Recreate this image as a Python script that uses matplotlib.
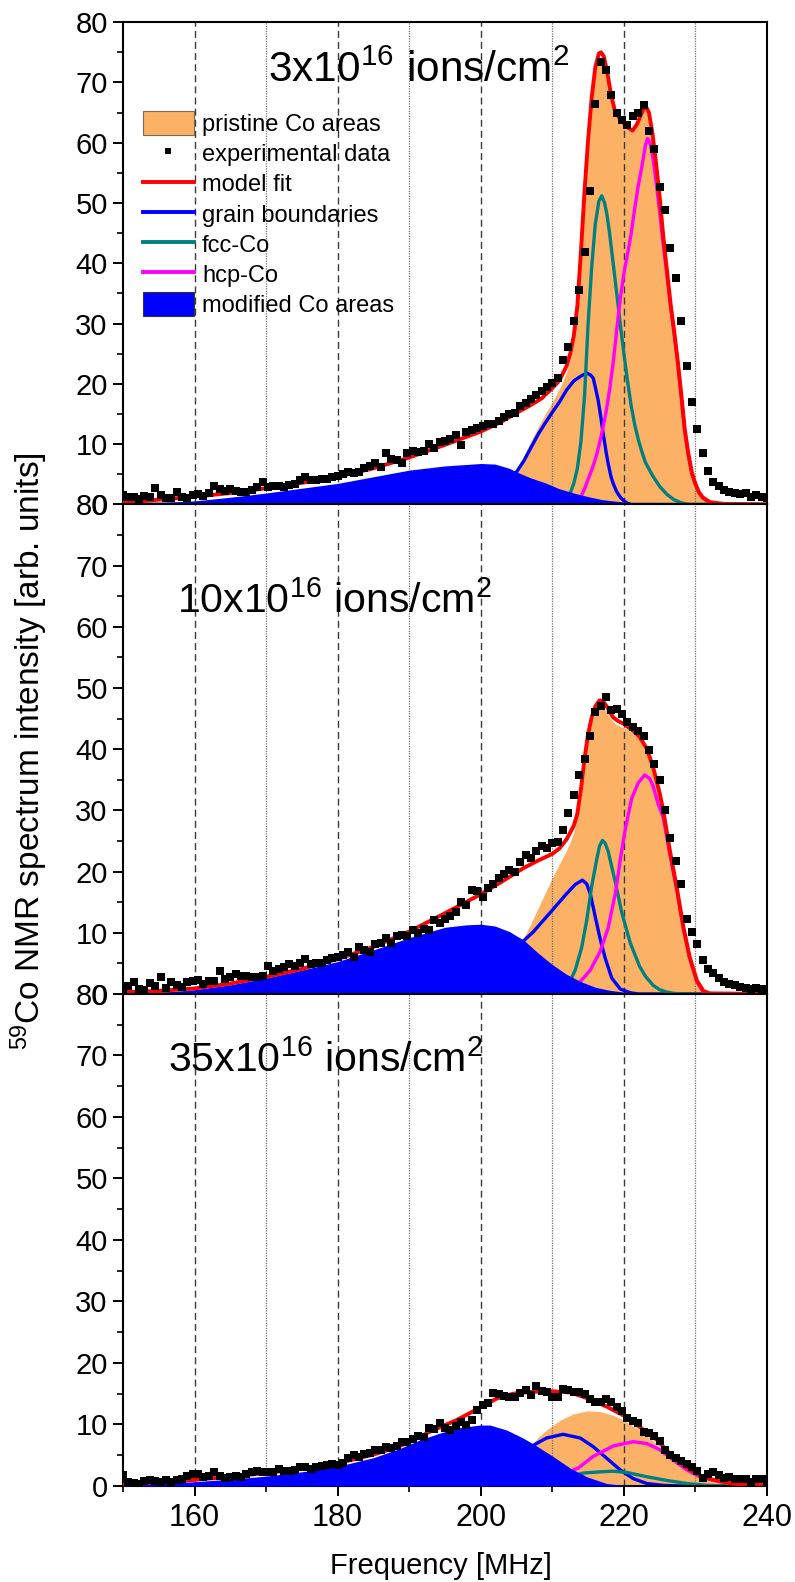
import numpy as np
import matplotlib
matplotlib.use("Agg")
import matplotlib.pyplot as plt
from matplotlib.ticker import MultipleLocator
from matplotlib.patches import Patch
from matplotlib.lines import Line2D

plt.rcParams['font.family'] = ['Liberation Sans', 'DejaVu Sans']
plt.rcParams['mathtext.fontset'] = 'custom'
plt.rcParams['mathtext.rm'] = 'Liberation Sans'
plt.rcParams['mathtext.default'] = 'regular'

ORANGE = '#FBB266'
BLUE = '#0000FF'
TEAL = '#008080'
MAGENTA = '#FF00FF'
RED = '#FF0000'

# measured frequencies (MHz), 0.75 MHz step
freq = 150 + 0.75 * np.arange(121)

# ---------------- panel 1: 3x10^16 ions/cm^2 ----------------
data1 = [1.6, 1.2, 1.3, 0.9, 1.4, 1.2, 2.7, 1.6, 1.0, 1.1,
         2.1, 1.2, 1.0, 1.5, 1.7, 1.4, 1.9, 3.1, 2.6, 2.2,
         2.6, 2.3, 2.1, 2.1, 2.4, 2.9, 3.8, 2.9, 3.1, 3.0,
         2.9, 3.3, 3.4, 4.0, 4.6, 4.1, 4.1, 4.3, 4.3, 4.5,
         4.7, 5.0, 5.4, 5.2, 5.4, 6.1, 6.4, 6.9, 6.2, 8.6,
         7.5, 7.4, 6.8, 8.6, 8.8, 8.7, 8.9, 10.1, 9.3, 10.4,
         10.6, 10.8, 11.5, 9.8, 12.0, 12.4, 12.7, 13.0, 13.3, 13.4,
         13.9, 14.5, 15.0, 15.1, 16.3, 16.8, 17.5, 18.2, 18.8, 19.5,
         20.2, 21.0, 24.0, 26.2, 30.5, 35.5, 41.8, 52.0, 66.5, 73.4,
         72.0, 68.0, 65.0, 63.8, 63.0, 64.5, 65.0, 66.3, 62.0, 59.0,
         52.7, 48.8, 42.5, 37.5, 30.5, 23.0, 17.0, 12.5, 8.6, 5.5,
         3.8, 3.0, 2.4, 2.1, 1.9, 1.8, 1.9, 1.3, 1.6, 1.2,
         1.0]
fit1_x = [150, 155, 160, 165, 170, 175, 180, 185, 190, 195, 200, 203, 205, 207, 208.5, 210, 211, 211.5, 212, 212.5,
          213, 213.5, 214, 214.5, 215, 215.5, 216, 216.5, 216.8, 217.2, 217.7, 218.2, 218.7, 219.3, 220, 220.7,
          221.2, 221.8, 222.5, 223, 223.5, 224, 224.5, 225, 225.5, 226, 226.5, 227, 227.5, 228, 228.5, 229,
          229.5, 230, 230.5, 231, 232, 234, 240]
fit1_y = [0.3, 0.8, 1.3, 1.9, 2.7, 3.6, 4.6, 6.0, 7.8, 9.9, 12.1, 13.8, 15.2, 16.5, 17.6, 19.3, 20.6, 21.8, 23.0, 25.0,
          28.0, 33.0, 42.0, 52.0, 60.5, 67.5, 72.5, 74.8, 75.0, 74.3, 71.5, 68.0, 65.5, 64.2, 63.2, 62.4,
          62.0, 63.0, 65.0, 66.2, 65.0, 61.5, 56.5, 51.0, 44.5, 39.0, 33.5, 29.0, 24.0, 18.5, 12.5, 8.5,
          5.3, 3.4, 2.0, 1.2, 0.4, 0.1, 0.0]
mod1_x = [150, 155, 160, 165, 170, 175, 180, 185, 190, 195, 200, 202, 204, 205, 207, 209, 211, 213, 214, 215,
          217, 220, 225, 230, 240]
mod1_y = [0.0, 0.3, 0.6, 1.2, 1.9, 2.7, 3.5, 4.6, 5.7, 6.4, 6.8, 6.7, 6.0, 5.4, 4.4, 3.6, 2.6, 1.9, 1.6, 1.3,
          0.8, 0.4, 0.1, 0.0, 0.0]
pri1_x = [205, 206, 207, 208, 209, 210, 211, 211.5, 212, 212.5, 213, 213.5, 214, 214.5, 215, 215.5, 216, 216.5,
          216.8, 217.2, 217.7, 218.2, 218.7, 219.3, 220, 220.7, 221.2, 221.8, 222.5, 223, 223.5, 224, 224.5,
          225, 225.5, 226, 226.5, 227, 227.5, 228, 228.5, 229, 229.5, 230, 230.5, 231, 232, 233]
pri1_y = [5.4, 8.0, 10.5, 12.8, 15.0, 17.0, 19.2, 20.5, 22.0, 24.0, 27.0, 32.0, 40.5, 50.7, 59.2, 66.4, 71.5, 74.0,
          74.3, 73.5, 70.8, 67.4, 65.0, 63.7, 62.8, 62.0, 61.7, 62.7, 64.7, 66.0, 64.8, 61.3, 56.3,
          50.9, 44.4, 38.9, 33.4, 28.9, 23.9, 18.4, 12.4, 8.5, 5.3, 3.4, 2.0, 1.2, 0.4, 0.0]
gb1_x = [150, 190, 195, 200, 203, 205, 206, 207, 208, 209, 210, 211, 212, 213, 214, 214.8, 215.3, 215.7, 216, 216.4,
         216.8, 217.1, 217.5, 217.8, 218.2, 218.5, 219, 219.5, 220, 220.5, 221, 240]
gb1_y = [0.0, 0.2, 0.6, 1.6, 3.2, 5.4, 7.2, 9.4, 11.6, 13.5, 15.3, 17.0, 19.0, 20.5, 21.3, 21.8, 21.5, 21.0, 19.5, 17.3,
         14.3, 11.8, 8.8, 6.8, 4.6, 3.5, 2.1, 1.2, 0.6, 0.2, 0.0, 0.0]
fcc1_x = [150, 211, 211.5, 212, 212.5, 213, 213.5, 214, 214.5, 215, 215.5, 216, 216.5, 216.9, 217.3, 217.6, 218,
          218.5, 219, 219.5, 220, 220.5, 221, 221.5, 222, 222.5, 223, 223.5, 224, 225, 226, 227, 228, 229, 240]
fcc1_y = [0.0, 0.0, 0.3, 0.9, 1.9, 3.5, 6.0, 10.5, 18.0, 30.0, 39.4, 46.5, 50.3, 51.2, 50.0, 48.3, 45.0,
          40.0, 35.0, 29.8, 25.0, 20.5, 16.5, 13.3, 10.8, 8.8, 7.0, 5.9, 4.8, 3.0, 1.7, 0.8, 0.3, 0.0, 0.0]
hcp1_x = [150, 212, 213, 213.5, 214, 214.5, 215, 215.5, 216, 216.5, 217, 217.5, 218, 218.5, 219, 219.5, 220, 220.5,
          221, 221.5, 222, 222.5, 223, 223.3, 223.7, 224.1, 224.5, 225, 225.5, 226, 226.5, 227, 227.5, 228,
          228.5, 229, 229.5, 230, 230.5, 231, 232, 233, 240]
hcp1_y = [0.0, 0.0, 0.2, 0.5, 1.3, 2.6, 4.2, 5.7, 7.5, 9.7, 12.3, 15.3, 19.0, 23.5, 29.0, 34.2, 38.3, 41.5,
          44.8, 49.0, 52.8, 56.0, 59.5, 60.7, 59.8, 57.1, 53.5, 48.5, 43.0, 38.3, 33.0, 28.5, 23.8, 18.0,
          12.2, 8.2, 5.1, 3.3, 2.0, 1.1, 0.3, 0.0, 0.0]

# ---------------- panel 2: 10x10^16 ions/cm^2 ----------------
data2 = [0.7, 1.3, 2.0, 0.8, 0.7, 1.8, 1.3, 2.8, 0.9, 2.0,
         1.4, 1.2, 2.0, 2.1, 2.3, 1.7, 2.1, 2.2, 3.8, 2.4,
         2.7, 3.3, 2.9, 2.9, 2.8, 2.8, 3.0, 4.5, 3.7, 4.0,
         4.4, 4.9, 4.5, 5.0, 5.7, 4.9, 5.1, 5.0, 5.5, 5.8,
         6.1, 6.4, 6.9, 6.1, 7.7, 7.2, 6.9, 8.2, 8.4, 9.1,
         8.3, 9.5, 9.6, 9.5, 10.5, 9.9, 10.7, 10.5, 12.1, 11.6,
         12.3, 12.8, 13.4, 15.1, 14.6, 17.0, 16.8, 15.8, 17.3, 17.9,
         18.9, 19.6, 20.3, 20.0, 21.5, 22.7, 22.2, 23.4, 24.2, 23.9,
         24.6, 24.8, 26.8, 29.5, 32.6, 35.8, 38.4, 42.2, 46.1, 47.0,
         48.6, 46.4, 46.5, 45.8, 44.5, 43.7, 43.0, 42.2, 39.8, 37.6,
         35.0, 30.0, 25.5, 21.8, 18.0, 12.3, 10.1, 8.1, 5.6, 4.1,
         3.4, 2.6, 2.0, 1.7, 1.4, 1.2, 1.0, 0.8, 1.0, 0.8,
         0.8]
fit2_x = [150, 155, 160, 165, 170, 175, 180, 185, 190, 195, 200, 203, 206, 208, 210, 211, 212, 212.5, 213, 213.5,
          214, 214.5, 215, 215.5, 216, 216.6, 217.1, 217.6, 218.5, 219.2, 219.9, 221.3, 222.2, 223.2, 224.1,
          225, 225.5, 226.4, 227.4, 228.3, 229.2, 230.2, 231.1, 232, 240]
fit2_y = [0.3, 0.5, 0.9, 1.7, 2.8, 4.1, 5.7, 7.7, 10.2, 13.2, 16.3, 18.4, 20.6, 21.8, 22.9, 23.8, 25.3, 26.4, 27.5, 29.5,
          33.5, 38.5, 42.5, 45.2, 47.0, 48.0, 47.8, 47.0, 45.2, 44.6, 44.2, 43.0, 42.0, 40.1, 37.0,
          32.8, 30.0, 23.6, 17.3, 11.0, 6.0, 2.2, 0.5, 0.1, 0.0]
mod2_x = [150, 155, 160, 165, 170, 175, 180, 185, 190, 195, 198, 200, 202, 204, 206, 208, 210, 212, 214, 216,
          218, 220, 223, 226, 240]
mod2_y = [0.0, 0.2, 0.7, 1.5, 2.6, 3.9, 5.3, 7.2, 9.2, 10.9, 11.3, 11.4, 11.1, 10.2, 8.8, 6.7, 4.8, 3.2, 2.0, 1.1,
          0.6, 0.3, 0.1, 0.0, 0.0]
pri2_x = [205.9, 207, 208, 209, 210, 211, 212, 212.5, 213, 213.5, 214, 214.5, 215, 215.5, 216, 216.5, 217, 217.5,
          218, 218.5, 219, 220, 221, 222, 223, 224, 225, 225.5, 226, 226.5, 227, 227.5, 228, 228.5, 229,
          229.5, 230, 230.5, 231, 232]
pri2_y = [8.9, 11.5, 14.0, 16.5, 19.0, 21.3, 23.5, 24.8, 26.5, 29.0, 33.0, 37.5, 41.5, 44.3, 46.0, 47.0, 46.8, 46.3,
          45.2, 44.5, 44.0, 43.5, 42.8, 41.8, 40.0, 37.0, 32.6, 29.6, 26.0, 22.6, 19.5, 16.4, 12.8, 9.6, 6.9,
          4.6, 2.7, 1.4, 0.5, 0.0]
gb2_x = [150, 185, 190, 195, 200, 203, 205.9, 207.3, 209.7, 212, 213.2, 214.2, 214.8, 215.3, 216, 216.7, 217.4,
         218.3, 219.5, 220.9, 222, 240]
gb2_y = [0.0, 0.3, 0.8, 1.8, 3.5, 5.6, 8.6, 10.1, 13.3, 16.4, 17.9, 18.6, 18.0, 16.4, 12.6, 8.9, 5.8,
         2.6, 0.8, 0.2, 0.0, 0.0]
fcc2_x = [150, 210, 211, 212.2, 213.2, 214.1, 214.8, 215.5, 216.2, 216.6, 217, 217.4, 217.8, 218.8, 219.7, 220.9,
          222.2, 223, 224.1, 225, 226, 227, 228, 240]
fcc2_y = [0.0, 0.0, 0.4, 1.4, 3.9, 7.6, 12.0, 17.6, 22.0, 24.2, 25.1, 24.6, 23.3, 18.3, 13.3, 8.3,
          4.5, 2.9, 1.4, 0.7, 0.3, 0.1, 0.0, 0.0]
hcp2_x = [150, 211, 212, 213, 213.9, 215.3, 216.7, 217.8, 218.8, 219.5, 220.2, 221.1, 222, 222.9, 223.6, 224.1,
          224.8, 225.5, 226.4, 227.4, 228.3, 229.2, 230.2, 231.1, 232, 240]
hcp2_y = [0.0, 0.0, 0.4, 1.1, 2.0, 3.9, 7.0, 10.8, 16.4, 22.0, 27.0, 32.0, 34.5, 35.8, 35.2, 33.9,
          31.0, 28.8, 23.0, 17.0, 10.8, 5.8, 2.0, 0.3, 0.0, 0.0]

# ---------------- panel 3: 35x10^16 ions/cm^2 ----------------
data3 = [1.8, 0.7, 0.5, 0.4, 0.8, 0.9, 0.8, 0.6, 0.9, 0.7,
         0.9, 1.2, 1.7, 1.9, 2.0, 1.4, 1.6, 2.3, 1.6, 1.3,
         1.5, 1.7, 1.5, 2.0, 2.3, 2.5, 2.2, 2.2, 2.3, 2.7,
         2.4, 2.5, 2.6, 3.1, 3.1, 2.8, 3.1, 3.2, 3.4, 3.6,
         3.4, 3.8, 4.6, 5.0, 4.7, 5.2, 5.4, 5.8, 5.9, 6.3,
         6.1, 6.5, 7.2, 7.1, 7.6, 8.2, 8.0, 9.4, 9.2, 10.2,
         9.5, 9.1, 9.8, 10.4, 9.9, 10.8, 12.4, 13.2, 13.5, 15.1,
         14.9, 14.6, 14.4, 14.5, 15.1, 15.6, 14.8, 16.3, 15.4, 15.3,
         14.5, 14.4, 15.8, 15.6, 15.3, 15.3, 15.0, 14.2, 13.7, 13.7,
         14.1, 13.6, 12.8, 12.2, 11.0, 10.5, 10.2, 8.8, 8.6, 8.2,
         7.3, 5.8, 5.1, 4.6, 4.1, 3.5, 3.1, 2.5, 1.3, 2.0,
         2.2, 1.8, 1.3, 1.4, 1.2, 1.1, 1.1, 0.7, 1.1, 1.2,
         0.7]
fit3_x = [150, 155, 160, 165, 170, 175, 180, 185, 188, 190, 193, 196.6, 200, 202.2, 204.5, 207, 210, 212.5, 214.8,
          217.6, 219.9, 222.2, 224.6, 226.4, 228.3, 229.7, 231, 232.5, 235, 237, 240]
fit3_y = [0.2, 0.6, 1.0, 1.5, 2.1, 2.8, 3.7, 5.1, 6.2, 7.1, 8.9, 10.7, 12.8, 14.2, 15.0, 15.3, 15.4, 15.2, 14.3,
          12.9, 11.5, 9.6, 7.5, 5.3, 3.4, 2.3, 1.5, 1.0, 0.4, 0.2, 0.1]
mod3_x = [150, 155, 160, 165, 170, 175, 180, 185, 188.7, 191.5, 194.3, 197.1, 199.9, 201.3, 203.6, 205.9, 207.8,
          210.1, 212.5, 214.8, 217.6, 220, 223, 240]
mod3_y = [0.1, 0.4, 0.7, 1.1, 1.6, 2.3, 3.2, 4.6, 6.1, 7.5, 8.6, 9.5, 9.9, 9.9, 9.1, 7.8, 6.5,
          4.8, 2.9, 1.5, 0.4, 0.1, 0.0, 0.0]
pri3_x = [207.3, 208, 209.2, 211.1, 212.9, 214.8, 216.7, 218.5, 219.9, 221.8, 223.6, 225.5, 227.4, 229.2, 231.6,
          233.9, 236.7, 240]
pri3_y = [6.9, 7.9, 9.1, 10.7, 11.7, 12.2, 12.1, 11.5, 10.7, 9.4, 7.8, 5.9, 4.0, 2.3, 1.3, 0.5, 0.2, 0.0]
gb3_x = [150, 185, 190, 195, 200, 204, 207, 209.2, 211.5, 213.9, 215.7, 217.6, 219.5, 221.3, 223.2, 225.5, 228, 240]
gb3_y = [0.0, 0.5, 1.2, 2.4, 3.8, 5.2, 6.4, 7.8, 8.4, 7.8, 6.4, 4.5, 2.6, 1.2, 0.4, 0.1, 0.0, 0.0]
fcc3_x = [150, 205, 208, 210, 212, 214.3, 216.7, 218.5, 220.4, 223.2, 226, 228.8, 231.6, 234, 240]
fcc3_y = [0.0, 0.0, 0.3, 0.7, 1.3, 2.1, 2.3, 2.4, 2.2, 1.5, 0.9, 0.4, 0.1, 0.0, 0.0]
hcp3_x = [150, 200, 205, 208, 210, 212, 213.6, 215.7, 218.5, 221.3, 223.2, 225, 226.9, 228.8, 230.6, 233.4, 236.2, 240]
hcp3_y = [0.0, 0.1, 0.4, 0.9, 1.5, 2.2, 2.9, 4.8, 6.5, 7.2, 6.9, 5.9, 4.2, 2.6, 1.5, 0.7, 0.3, 0.1]

titles = ["3x10$^{16}$ ions/cm$^{2}$", "10x10$^{16}$ ions/cm$^{2}$", "35x10$^{16}$ ions/cm$^{2}$"]
title_pos = [(170.3, 70.1), (157.6, 62.4), (156.3, 67.3)]
title_size = [30.5, 29.5, 29.5]


def draw_panel(ax, data, fit, mod, pri, gb, fcc, hcp, title, tpos, tsize):
    ax.fill_between(pri[0], 0, pri[1], color=ORANGE, lw=0, zorder=1)
    for f in (160, 180, 200, 220):
        ax.axvline(f, color='#3a3a3a', lw=1.0, ls=(0, (5, 3)), zorder=1.5)
    for f in (170, 190, 210, 230):
        ax.axvline(f, color='#707070', lw=0.9, ls=(0, (1, 1)), zorder=1.5)
    ax.plot(gb[0], gb[1], color=BLUE, lw=2.4, zorder=2)
    ax.plot(fcc[0], fcc[1], color=TEAL, lw=2.4, zorder=2)
    ax.plot(hcp[0], hcp[1], color=MAGENTA, lw=2.4, zorder=2)
    ax.fill_between(mod[0], 0, mod[1], color=BLUE, lw=0, zorder=3)
    ax.plot(fit[0], fit[1], color=RED, lw=2.8, zorder=3.5)
    ax.plot(freq, data, 's', color='k', ms=6, mew=0, zorder=4)

    ax.set_xlim(150, 240)
    ax.set_ylim(0, 80)
    ax.yaxis.set_major_locator(MultipleLocator(10))
    ax.yaxis.set_minor_locator(MultipleLocator(5))
    ax.xaxis.set_major_locator(MultipleLocator(20))
    ax.xaxis.set_minor_locator(MultipleLocator(10))
    ax.tick_params(axis='y', which='major', direction='out', length=7, width=1.4, labelsize=21, pad=4)
    ax.tick_params(axis='y', which='minor', direction='out', length=4, width=1.2)
    for s in ax.spines.values():
        s.set_linewidth(1.5)
    ax.text(tpos[0], tpos[1], title, fontsize=tsize, ha='left', va='baseline', zorder=5)


fig = plt.figure(figsize=(7.95, 15.82), dpi=100)
ax1 = fig.add_axes([0.1547, 0.6811, 0.8101, 0.3049])
ax2 = fig.add_axes([0.1547, 0.3717, 0.8101, 0.3094])
ax3 = fig.add_axes([0.1547, 0.0607, 0.8101, 0.3110])

draw_panel(ax1, data1, (fit1_x, fit1_y), (mod1_x, mod1_y), (pri1_x, pri1_y),
           (gb1_x, gb1_y), (fcc1_x, fcc1_y), (hcp1_x, hcp1_y), titles[0], title_pos[0], title_size[0])
draw_panel(ax2, data2, (fit2_x, fit2_y), (mod2_x, mod2_y), (pri2_x, pri2_y),
           (gb2_x, gb2_y), (fcc2_x, fcc2_y), (hcp2_x, hcp2_y), titles[1], title_pos[1], title_size[1])
draw_panel(ax3, data3, (fit3_x, fit3_y), (mod3_x, mod3_y), (pri3_x, pri3_y),
           (gb3_x, gb3_y), (fcc3_x, fcc3_y), (hcp3_x, hcp3_y), titles[2], title_pos[2], title_size[2])

for ax in (ax1, ax2):
    ax.tick_params(axis='x', which='both', bottom=False, labelbottom=False)
ax3.tick_params(axis='x', which='major', direction='out', length=7, width=1.4, labelsize=22, pad=5)
ax3.tick_params(axis='x', which='minor', direction='out', length=4, width=1.2)

handles = [Patch(facecolor=ORANGE, edgecolor='#7a6a55', lw=0.8),
           Line2D([], [], ls='none', marker='s', color='k', ms=5, mew=0),
           Line2D([], [], color=RED, lw=2.8),
           Line2D([], [], color=BLUE, lw=2.8),
           Line2D([], [], color=TEAL, lw=2.8),
           Line2D([], [], color=MAGENTA, lw=2.8),
           Patch(facecolor=BLUE, edgecolor='#333333', lw=0.8)]
labels = ["pristine Co areas", "experimental data", "model fit", "grain boundaries",
          "fcc-Co", "hcp-Co", "modified Co areas"]
ax1.legend(handles, labels, loc='upper left', bbox_to_anchor=(0.031, 0.815), frameon=False,
           fontsize=17, handlelength=2.15, handleheight=1.15, handletextpad=0.35,
           labelspacing=0.23, borderpad=0, borderaxespad=0, numpoints=1)

fig.text(0.5547, 0.0051, "Frequency [MHz]", fontsize=21, ha='center', va='baseline')
fig.text(0.0365, 0.525, "$^{59}$Co NMR spectrum intensity [arb. units]", fontsize=24,
         rotation=90, ha='center', va='center')

fig.savefig("out.png", dpi=100)
